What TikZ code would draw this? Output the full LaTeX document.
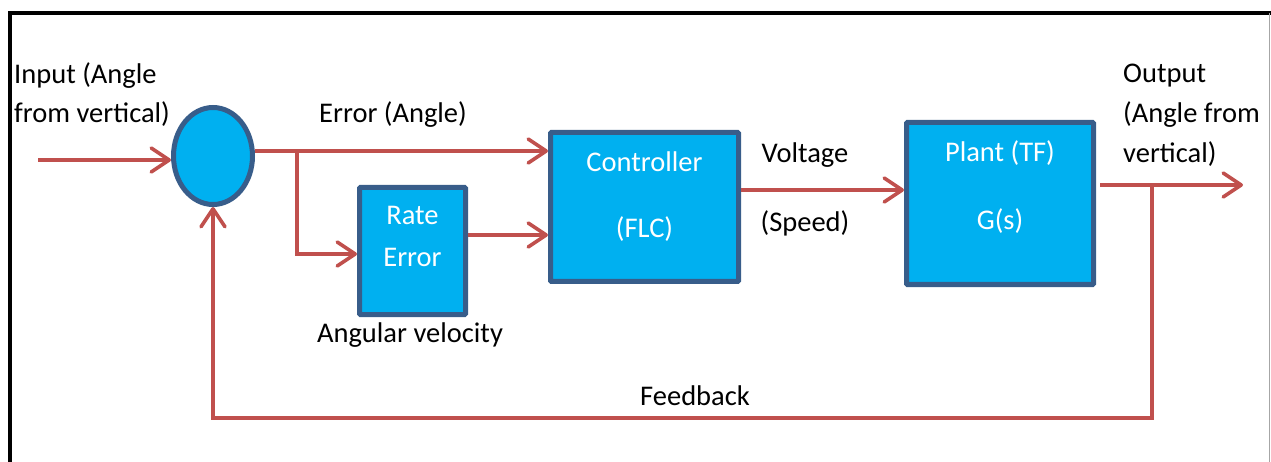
\documentclass[tikz,border=0pt]{standalone}
\usepackage{fontspec}
\setmainfont{Carlito}
\usetikzlibrary{arrows.meta,shapes.geometric}
\definecolor{fillblue}{HTML}{00B0F0}
\definecolor{edgeblue}{HTML}{385D8A}
\definecolor{arrred}{HTML}{C0504D}
\begin{document}
\begin{tikzpicture}[x=1pt,y=-1pt,
  blk/.style={draw=edgeblue, fill=fillblue, line width=5pt, rounded corners=1pt, inner sep=0pt},
  wtxt/.style={text=white, font=\fontsize{28.5}{34}\selectfont, anchor=base, inner sep=0pt},
  btxt/.style={text=black, font=\fontsize{28.5}{34}\selectfont, anchor=base, inner sep=0pt},
  sig/.style={draw=arrred, line width=3.6pt, -{Straight Barb[round,length=18pt,width=24pt]}},
  wire/.style={draw=arrred, line width=3.6pt}]
\useasboundingbox (0,0) rectangle (1271,462);
% frame
\draw[line width=4pt] (10,462) -- (10,13) -- (1271,13);
\draw[black!35, line width=1pt] (1269.5,13) -- (1269.5,462);
% blocks
\node[blk, ellipse, minimum width=79pt, minimum height=97pt] (sum) at (213,156) {};
\node[blk, minimum width=106pt, minimum height=127pt] (rate) at (412.5,251) {};
\node[blk, minimum width=188pt, minimum height=149pt] (ctrl) at (644.5,207) {};
\node[blk, minimum width=187pt, minimum height=162pt] (plant) at (1000,203.5) {};
% block texts
\node[wtxt] (rate1) at (412.5,225) {Rate};
\node[wtxt] (rate2) at (412.5,267) {Error};
\node[wtxt] (ctrl1) at (644.5,172) {Controller};
\node[wtxt] (ctrl2) at (644.5,238) {(FLC)};
\node[wtxt] (plant1) at (1000,162) {Plant (TF)};
\node[wtxt] (plant2) at (1000,230) {G(s)};
% coordinates
\coordinate (in) at (38,160);
\coordinate (split) at (297,151);
\coordinate (rlow) at (0,254);
\coordinate (rhigh) at (0,235);
\coordinate (vline) at (0,190);
\coordinate (tap) at (1152,185);
\coordinate (out) at (1243,185);
\coordinate (fb) at (1152,418);
% connectors
\draw[sig] (in) -- (in -| sum.west);
\draw[wire] (sum.east |- split) -- (split);
\draw[sig] (split) -- (split -| ctrl.west);
\draw[sig] (split) |- (rate.west |- rlow);
\draw[sig] (rate.east |- rhigh) -- (ctrl.west |- rhigh);
\draw[sig] (ctrl.east |- vline) -- (plant.west |- vline);
\draw[wire] ([xshift=4pt]plant.east |- out) -- (tap);
\draw[sig] (tap) -- (out);
\draw[sig] (tap) -- (fb) -| (sum.south);
% labels
\node[btxt, anchor=base west] (inl1) at (14,84) {Input (Angle};
\node[btxt, anchor=base west] (inl2) at (14,123) {from vertical)};
\node[btxt] (errl) at (393,123) {Error (Angle)};
\node[btxt] (angl) at (410,342) {Angular velocity};
\node[btxt] (volt) at (805,163) {Voltage};
\node[btxt] (spd) at (805,232) {(Speed)};
\node[btxt] (fbl) at (695,405) {Feedback};
\node[btxt, anchor=base west] (outl1) at (1123,83) {Output};
\node[btxt, anchor=base west] (outl2) at (1123,123) {(Angle from};
\node[btxt, anchor=base west] (outl3) at (1123,163) {vertical)};
\end{tikzpicture}
\end{document}
